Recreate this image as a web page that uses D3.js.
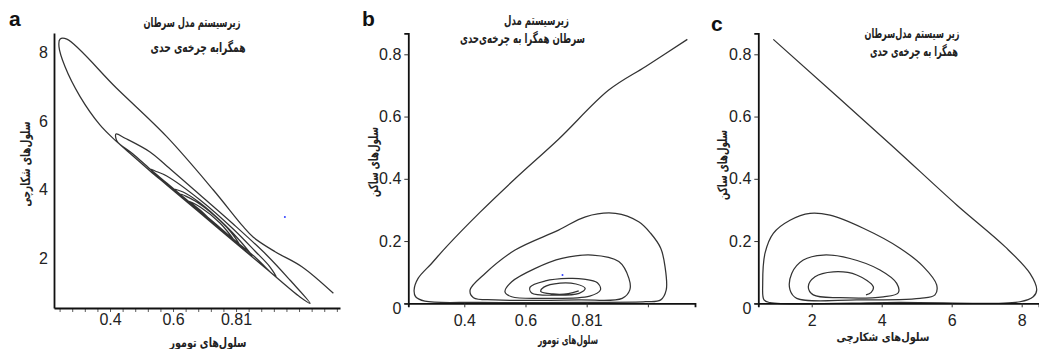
<!DOCTYPE html>
<html>
<head>
<meta charset="utf-8">
<script src="https://cdn.jsdelivr.net/npm/d3@7"></script>
<style>
  body { margin: 0; background: #fff; }
  svg { display: block; }
  .tick text { font-family: "Liberation Sans", Arial, sans-serif; font-size: 16px; fill: #222; }
  .fa { font-family: "DejaVu Sans", sans-serif; font-weight: bold; fill: #222; }
  .letter { font-family: "Liberation Sans", Arial, sans-serif; font-weight: bold; font-size: 21px; fill: #111; }
</style>
</head>
<body>
<svg id="chart" width="1039" height="349"></svg>
<script>
// ==================== data ==================== //

// panel a: tumour cells vs hunting cells
const tumorA = [1.109, 1.009, 0.924, 0.855, 0.823, 0.728, 0.580, 0.421, 0.263, 0.241, 0.238, 0.257, 0.305, 0.368, 0.421,
  0.473, 0.527, 0.580, 0.686, 0.791, 0.897, 1.003, 1.035,
  0.971, 0.897, 0.791, 0.686, 0.580, 0.527, 0.448, 0.419,
  0.422, 0.473, 0.527, 0.580, 0.686, 0.791, 0.860, 0.927,
  0.908, 0.860, 0.791, 0.686, 0.580, 0.543, 0.527,
  0.580, 0.686, 0.791, 0.851,
  0.813, 0.765, 0.686, 0.632, 0.596,
  0.632, 0.686, 0.765, 0.813,
  0.781, 0.733, 0.670, 0.622,
  0.638, 0.670, 0.733, 0.781, 0.797,
  0.749, 0.686, 0.648, 0.686, 0.749, 0.765];
const hunterA = [0.968, 1.746, 2.184, 2.605, 2.915, 3.988, 5.547, 6.961, 8.395, 8.395, 8.178, 7.594, 6.716, 5.889, 5.401,
  4.982, 4.544, 4.135, 3.316, 2.497, 1.678, 0.860, 0.675,
  1.357, 2.088, 2.994, 3.842, 4.690, 5.099, 5.500, 5.626,
  5.421, 5.041, 4.602, 4.193, 3.374, 2.556, 2.029, 1.444,
  1.737, 2.205, 2.848, 3.696, 4.398, 4.544, 4.602,
  4.164, 3.345, 2.526, 2.058,
  2.497, 2.965, 3.608, 3.930, 4.018,
  3.754, 3.374, 2.760, 2.351,
  2.789, 3.228, 3.667, 3.871,
  3.725, 3.520, 2.994, 2.585, 2.468,
  3.023, 3.491, 3.667, 3.404, 2.848, 2.760];

// panel b: tumour cells vs resting cells
const tumorB = [1.129, 0.993, 0.872, 0.708, 0.566, 0.451, 0.342, 0.293, 0.249, 0.236, 0.241, 0.271, 0.446, 0.774, 0.993, 1.042, 1.060, 1.056, 1.042, 1.009, 0.970,
  0.894, 0.796, 0.708, 0.566, 0.468, 0.419, 0.430, 0.501, 0.774, 0.916, 0.941, 0.938, 0.905, 0.818, 0.719, 0.632, 0.555, 0.533,
  0.555, 0.665, 0.810, 0.845, 0.835, 0.790, 0.740, 0.665, 0.615, 0.620, 0.700, 0.775, 0.795, 0.765, 0.713, 0.660, 0.650, 0.690, 0.740, 0.774];
const restingB = [0.848, 0.761, 0.685, 0.527, 0.400, 0.292, 0.182, 0.128, 0.080, 0.043, 0.021, 0.007, 0.003, 0.003, 0.005, 0.011, 0.043, 0.118, 0.177, 0.225, 0.262,
  0.289, 0.278, 0.235, 0.171, 0.096, 0.043, 0.018, 0.011, 0.011, 0.016, 0.043, 0.080, 0.134, 0.155, 0.144, 0.112, 0.069, 0.037,
  0.021, 0.016, 0.023, 0.043, 0.066, 0.078, 0.080, 0.072, 0.052, 0.033, 0.026, 0.032, 0.048, 0.062, 0.065, 0.052, 0.038, 0.030, 0.031, 0.040];

// panel c: hunting cells vs resting cells
const hunterC = [0.903, 4.237, 6.143, 7.523, 8.237, 8.429, 8.330, 7.951, 4.500, 0.809, 0.637, 0.600, 0.666, 0.903, 1.380, 1.951, 2.523, 3.474, 4.523, 5.189, 5.571,
  5.523, 5.094, 3.286, 1.571, 1.380, 1.429, 1.760, 2.331, 3.094, 3.951, 4.429, 4.474, 4.046, 2.809, 2.046, 1.903, 2.094, 2.617, 3.286, 3.760, 3.700, 3.551];
const restingC = [0.848, 0.512, 0.316, 0.182, 0.096, 0.043, 0.021, 0.005, 0.003, 0.002, 0.011, 0.064, 0.161, 0.225, 0.267, 0.289, 0.283, 0.241, 0.177, 0.118, 0.059,
  0.027, 0.016, 0.011, 0.016, 0.043, 0.096, 0.139, 0.155, 0.144, 0.107, 0.064, 0.034, 0.021, 0.018, 0.027, 0.053, 0.085, 0.101, 0.091, 0.053, 0.035, 0.027];

// equilibrium dots (blue)
const dotA = [[0.955, 3.2]];
const dotB = [[0.721, 0.091]];

// ticks
const xTicksA = [0.4, 0.6, 0.8];
const xTickLabelsA = ["0.4", "0.6", "0.81"];
const yTicksA = [2, 4, 6, 8];
const xTicksB = [0.4, 0.6, 0.8, 1.0];
const xTickLabelsB = ["0.4", "0.6", "0.81", ""];
const yTicksBC = [0, 0.2, 0.4, 0.6, 0.8];
const yTickLabelsBC = ["0", "0.2", "0.4", "0.6", "0.8"];
const xTicksC = [2, 4, 6, 8];

// texts
const titlesA = ["زیرسیستم مدل سرطان", "همگرابه چرخه\u200cی حدی"];
const titlesB = ["زیرسیستم مدل", "سرطان همگرا به چرخه\u200cی\u200cحدی"];
const titlesC = ["زیر سیستم مدل\u200cسرطان", "همگرا به چرخه\u200cی حدی"];
const tumorLabel = "سلول\u200cهای تومور";
const hunterLabel = "سلول\u200cهای شکارچی";
const restingLabel = "سلول\u200cهای ساکن";

// ==================== drawing ==================== //

const svg = d3.select("#chart");
const zip = (a, b) => a.map((v, i) => [v, b[i]]);

function faText(g, t, pos, width, size, rotate) {
  const el = g.append("text")
    .attr("class", "fa")
    .attr("text-anchor", "middle")
    .attr("dy", "0.35em")
    .attr("font-size", size)
    .attr("textLength", width)
    .attr("lengthAdjust", "spacingAndGlyphs")
    .text(t);
  if (rotate) el.attr("transform", `translate(${pos[0]},${pos[1]}) rotate(-90)`);
  else el.attr("x", pos[0]).attr("y", pos[1]);
}

function drawPanel(p) {
  const g = svg.append("g");
  const x = d3.scaleLinear().domain(p.xDomain).range(p.xRange);
  const y = d3.scaleLinear().domain(p.yDomain).range(p.yRange);

  const line = d3.line()
    .x(d => x(d[0]))
    .y(d => y(d[1]))
    .curve(d3.curveCatmullRom.alpha(0.5));

  g.append("path")
    .datum(p.points)
    .attr("d", line)
    .attr("fill", "none")
    .attr("stroke", "#333")
    .attr("stroke-width", 1.25)
    .attr("stroke-linejoin", "round");

  g.selectAll("circle.dot")
    .data(p.dots || [])
    .join("circle")
    .attr("class", "dot")
    .attr("cx", d => x(d[0]))
    .attr("cy", d => y(d[1]))
    .attr("r", 1)
    .attr("fill", "#3040ff");

  // minor ticks (panel a only)
  if (p.minorTicks) {
    g.append("g")
      .attr("transform", `translate(0,${y.range()[0]})`)
      .call(d3.axisBottom(x).tickValues(p.minorTicks).tickSize(4).tickFormat(""))
      .call(a => a.select(".domain").remove())
      .call(a => a.selectAll(".tick line").attr("stroke", "#333").attr("stroke-width", 0.8));
  }

  const xAxis = g.append("g")
    .attr("transform", `translate(0,${y.range()[0]})`)
    .call(d3.axisBottom(x)
      .tickValues(p.xTicks)
      .tickSize(p.xTickSize)
      .tickPadding(p.xTickPadding)
      .tickFormat((d, i) => p.xTickLabels[i]));
  xAxis.select(".domain").attr("stroke", "#111").attr("stroke-width", 1.8);
  xAxis.selectAll(".tick line").attr("stroke", "#333");

  const yAxis = g.append("g")
    .attr("transform", `translate(${x.range()[0]},0)`)
    .call(d3.axisLeft(y)
      .tickValues(p.yTicks)
      .tickSize(p.yTickSize)
      .tickPadding(p.yTickPadding)
      .tickFormat((d, i) => p.yTickLabels[i]));
  yAxis.select(".domain").attr("stroke", "#111").attr("stroke-width", 1.8);
  yAxis.selectAll(".tick line").attr("stroke", "#333");
  yAxis.selectAll(".tick text").filter(d => d === 0).attr("dy", "0.62em");
  g.selectAll(".tick text").attr("font-size", null).attr("font-family", null);

  p.titles.forEach((t, i) => faText(g, t, p.titlePos[i], p.titleWidth[i], 13.5));
  faText(g, p.xLabel, p.xLabelPos, p.xLabelWidth, p.xLabelSize || 13);
  faText(g, p.yLabel, p.yLabelPos, p.yLabelWidth, 13, true);

  g.append("text")
    .attr("class", "letter")
    .attr("x", p.letterPos[0])
    .attr("y", p.letterPos[1])
    .text(p.letter);
}

drawPanel({
  points: zip(tumorA, hunterA),
  dots: dotA,
  xDomain: [0.2222, 1.130], xRange: [54, 340],
  yDomain: [0.539, 8.576], yRange: [308, 33],
  xTicks: xTicksA, xTickLabels: xTickLabelsA, xTickSize: 0, xTickPadding: 6,
  minorTicks: d3.range(0.24, 1.13, 0.04),
  yTicks: yTicksA, yTickLabels: yTicksA.map(String), yTickSize: 0, yTickPadding: 6,
  titles: titlesA, titlePos: [[192, 22], [198, 47]], titleWidth: [97, 95],
  xLabel: tumorLabel, xLabelPos: [208, 342], xLabelWidth: 77,
  yLabel: hunterLabel, yLabelPos: [25, 164], yLabelWidth: 85,
  letter: "a", letterPos: [9, 26]
});

drawPanel({
  points: zip(tumorB, restingB),
  dots: dotB,
  xDomain: [0.217, 1.154], xRange: [408.3, 695],
  yDomain: [0, 0.8675], yRange: [303.3, 33.3],
  xTicks: xTicksB, xTickLabels: xTickLabelsB, xTickSize: 4, xTickPadding: 7,
  yTicks: yTicksBC, yTickLabels: yTickLabelsBC, yTickSize: 4, yTickPadding: 3,
  titles: titlesB, titlePos: [[536.5, 20], [522.5, 38]], titleWidth: [65, 125],
  xLabel: tumorLabel, xLabelPos: [568, 340], xLabelWidth: 60, xLabelSize: 12,
  yLabel: restingLabel, yLabelPos: [373, 162], yLabelWidth: 70,
  letter: "b", letterPos: [362, 26]
});

drawPanel({
  points: zip(hunterC, restingC),
  xDomain: [0.474, 8.495], xRange: [758.3, 1039],
  yDomain: [0, 0.8675], yRange: [303.3, 33.3],
  xTicks: xTicksC, xTickLabels: xTicksC.map(String), xTickSize: 4, xTickPadding: 7,
  yTicks: yTicksBC, yTickLabels: yTickLabelsBC, yTickSize: 4, yTickPadding: 3,
  titles: titlesC, titlePos: [[912, 33], [914, 51]], titleWidth: [95, 88],
  xLabel: hunterLabel, xLabelPos: [883, 337], xLabelWidth: 93, xLabelSize: 11.5,
  yLabel: restingLabel, yLabelPos: [722, 165], yLabelWidth: 70,
  letter: "c", letterPos: [711, 31]
});
</script>
</body>
</html>
